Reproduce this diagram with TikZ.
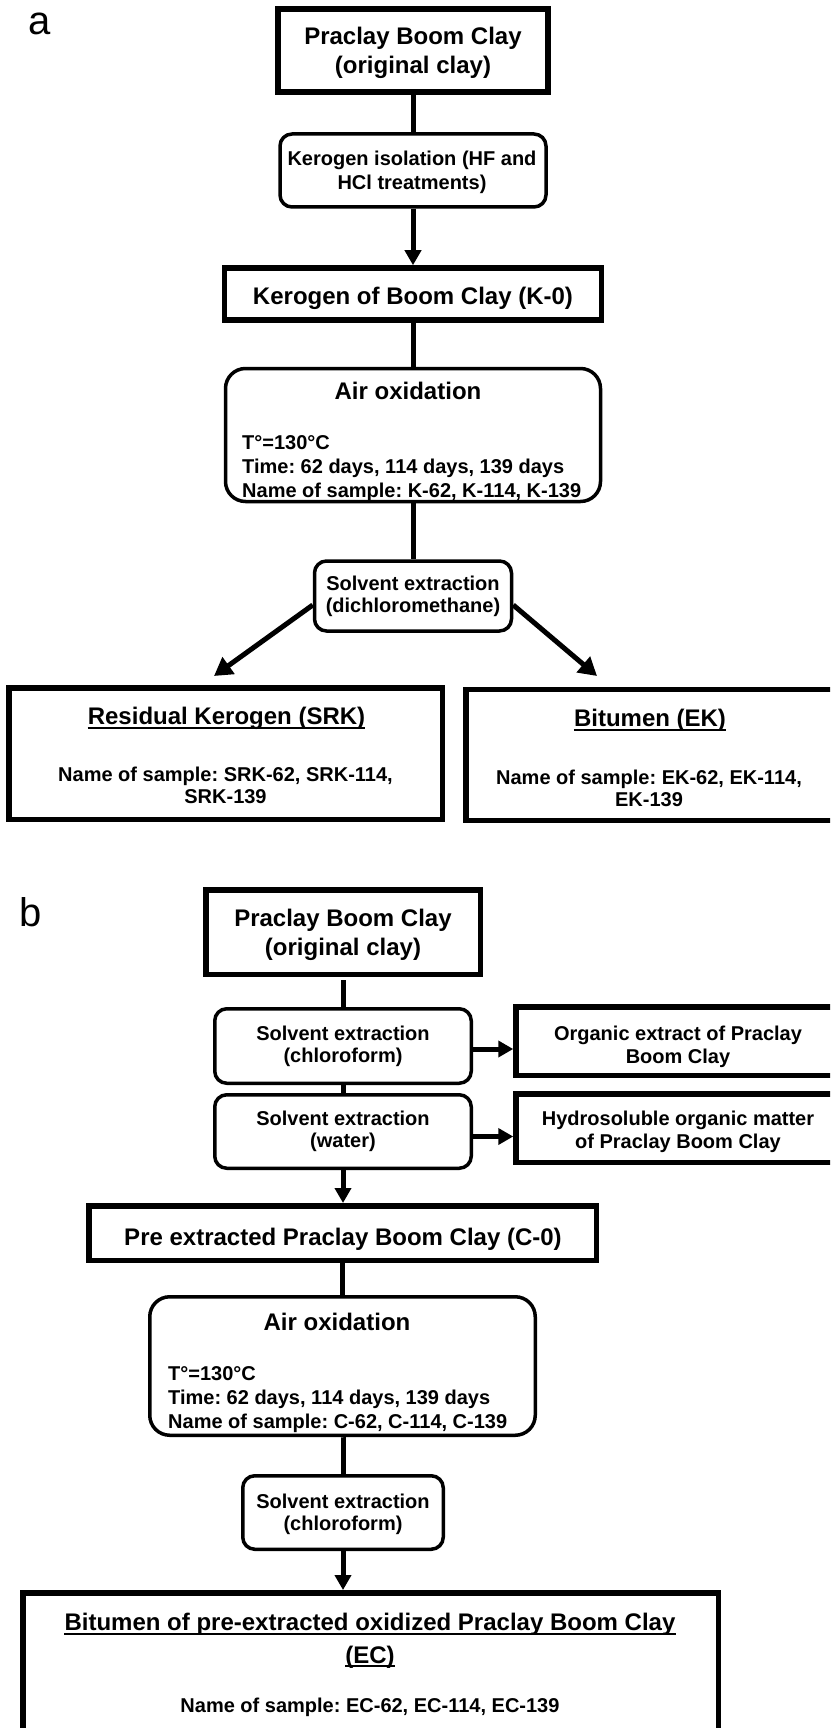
\documentclass[tikz,border=0pt]{standalone}
\usepackage{fontspec}
\setmainfont{Liberation Sans}
\usetikzlibrary{arrows.meta}
\frenchspacing
\tikzset{
  sqbox/.style={draw, line width=5.5pt, inner sep=0pt},
  rbox/.style={draw, line width=3.5pt, inner sep=0pt, rounded corners=12pt},
  bigrbox/.style={draw, line width=3.5pt, inner sep=0pt, rounded corners=20pt},
  tx/.style={inner sep=0pt, anchor=base, font=\bfseries\fontsize{20pt}{24pt}\selectfont},
  txl/.style={tx, anchor=base west},
  tb/.style={inner sep=0pt, anchor=base, font=\bfseries\fontsize{24pt}{28pt}\selectfont},
  panel/.style={inner sep=0pt, anchor=base, font=\fontsize{40pt}{40pt}\selectfont},
  conn/.style={line width=5pt},
  arr/.style={conn, -{Triangle[length=15pt,width=16pt]}},
  darr/.style={conn, -{Triangle[length=18pt,width=20pt]}},
  uline/.style={line width=2pt}
}
\begin{document}
\frenchspacing
\begin{tikzpicture}[x=1pt,y=-1pt]
\useasboundingbox (0,0) rectangle (830,1728);
\clip (0,0) rectangle (830,1728);
\fill[white] (0,0) rectangle (830,1728);

% ---------------- panel a ----------------
\node[panel] (la) at (40,35) {a};

\node[sqbox, minimum width=270pt, minimum height=83pt] (k1) at (413,50.5) {};
\node[tb] (k1a) at (413,45) {Praclay Boom Clay};
\node[tb] (k1b) at (413,74) {(original clay)};

\node[rbox, minimum width=266pt, minimum height=73pt] (k2) at (413,170.5) {};
\node[tx] (k2a) at (412,166) {Kerogen isolation (HF and};
\node[tx] (k2b) at (412,190) {HCl treatments)};

\node[sqbox, minimum width=377pt, minimum height=52pt] (k3) at (413,294) {};
\node[tb] (k3a) at (413,304) {Kerogen of Boom Clay (K-0)};

\node[bigrbox, minimum width=375pt, minimum height=133pt] (k4) at (413,435) {};
\node[tb] (k4a) at (408,399) {Air oxidation};
\node[txl] (k4b) at (242,449) {T°=130°C};
\node[txl] (k4c) at (242,473) {Time: 62 days, 114 days, 139 days};
\node[txl] (k4d) at (242,497) {Name of sample: K-62, K-114, K-139};

\node[rbox, minimum width=197pt, minimum height=70pt] (k5) at (413,596) {};
\node[tx] (k5a) at (413,590) {Solvent extraction};
\node[tx] (k5b) at (413,612) {(dichloromethane)};

\node[sqbox, minimum width=433.5pt, minimum height=131.5pt] (k6) at (225.5,753.5) {};
\node[tb] (k6a) at (226.5,724) {Residual Kerogen (SRK)};
\draw[uline] ([yshift=-3.5pt]k6a.base west) -- ([yshift=-3.5pt]k6a.base east);
\node[tx] (k6b) at (225.5,781) {Name of sample: SRK-62, SRK-114,};
\node[tx] (k6c) at (225.5,803) {SRK-139};

\node[sqbox, minimum width=368pt, minimum height=131pt] (k7) at (650,755) {};
\node[tb] (k7a) at (650,726) {Bitumen (EK)};
\draw[uline] ([yshift=-3.5pt]k7a.base west) -- ([yshift=-3.5pt]k7a.base east);
\node[tx] (k7b) at (649,784) {Name of sample: EK-62, EK-114,};
\node[tx] (k7c) at (649,806) {EK-139};

\coordinate (ta) at (214,676);
\coordinate (tbb) at (597,676);

\draw[conn] (k1.south) -- (k2.north);
\draw[arr] (k2.south) -- (k3.north);
\draw[conn] (k3.south) -- (k4.north);
\draw[conn] (k4.south) -- (k5.north);
\draw[darr] ([yshift=-9pt]k5.west) -- (ta);
\draw[darr] ([yshift=-9pt]k5.east) -- (tbb);

% ---------------- panel b ----------------
\node[panel] (lb) at (31,926) {b};

\node[sqbox, minimum width=274.5pt, minimum height=84.5pt] (c1) at (343,932) {};
\node[tb] (c1a) at (343,926) {Praclay Boom Clay};
\node[tb] (c1b) at (343,955) {(original clay)};

\node[rbox, minimum width=256.5pt, minimum height=74.5pt] (c2) at (343,1046) {};
\node[tx] (c2a) at (343,1040) {Solvent extraction};
\node[tx] (c2b) at (343,1062) {(chloroform)};

\node[sqbox, minimum width=324pt, minimum height=68.5pt] (c3) at (678,1041) {};
\node[tx] (c3a) at (678,1040) {Organic extract of Praclay};
\node[tx] (c3b) at (678,1063) {Boom Clay};

\node[rbox, minimum width=256.5pt, minimum height=73.5pt] (c4) at (343,1131.5) {};
\node[tx] (c4a) at (343,1125) {Solvent extraction};
\node[tx] (c4b) at (343,1147) {(water)};

\node[sqbox, minimum width=324pt, minimum height=68.5pt] (c5) at (678,1128) {};
\node[tx] (c5a) at (678,1125) {Hydrosoluble organic matter};
\node[tx] (c5b) at (678,1148) {of Praclay Boom Clay};

\node[sqbox, minimum width=507.5pt, minimum height=54.5pt] (c6) at (342.5,1233) {};
\node[tb] (c6a) at (343,1245) {Pre extracted Praclay Boom Clay (C-0)};

\node[bigrbox, minimum width=385.5pt, minimum height=138.5pt] (c7) at (342.5,1366) {};
\node[tb] (c7a) at (337,1330) {Air oxidation};
\node[txl] (c7b) at (168,1380) {T°=130°C};
\node[txl] (c7c) at (168,1404) {Time: 62 days, 114 days, 139 days};
\node[txl] (c7d) at (168,1428) {Name of sample: C-62, C-114, C-139};

\node[rbox, minimum width=200.5pt, minimum height=73.5pt] (c8) at (343,1512.5) {};
\node[tx] (c8a) at (343,1508) {Solvent extraction};
\node[tx] (c8b) at (343,1530) {(chloroform)};

\node[sqbox, minimum width=695.5pt, minimum height=147.25pt] (c9) at (370.5,1666.4) {};
\node[tb] (c9a) at (370,1630) {Bitumen of pre-extracted oxidized Praclay Boom Clay};
\draw[uline] ([yshift=-4pt]c9a.base west) -- ([yshift=-4pt]c9a.base east);
\node[tb] (c9b) at (370,1663) {(EC)};
\draw[uline] ([yshift=-3pt]c9b.base west) -- ([yshift=-3pt]c9b.base east);
\node[tx] (c9c) at (370,1712) {Name of sample: EC-62, EC-114, EC-139};

\draw[conn] ([yshift=-3pt]c1.south) -- (c2.north);
\draw[arr] ([yshift=-3pt]c2.east) -- ([yshift=-3pt]c2.east -| c3.west);
\draw[conn] (c2.south) -- (c4.north);
\draw[arr] ([yshift=-5pt]c4.east) -- ([yshift=-5pt]c4.east -| c5.west);
\draw[arr] (c4.south) -- (c4.south |- c6.north);
\draw[conn] (c6.south) -- (c6.south |- c7.north);
\draw[conn] (c7.south) -- (c7.south -| c8.north) -- (c8.north);
\draw[arr] (c8.south) -- (c8.south |- c9.north);
\end{tikzpicture}
\end{document}
